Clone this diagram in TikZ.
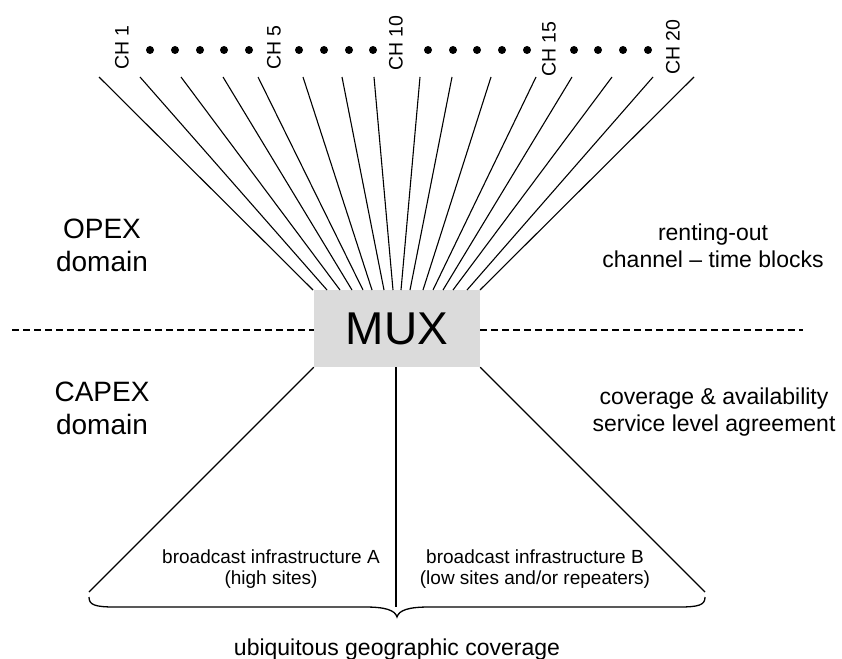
\documentclass[tikz,border=0pt]{standalone}
\usepackage{fontspec}
\setmainfont{Liberation Sans}
\begin{document}
\begin{tikzpicture}[x=1pt,y=-1pt,
  chline/.style={line width=1.1pt},
  divline/.style={line width=2pt, dash pattern=on 7pt off 4pt},
  chlabel/.style={rotate=90, anchor=west, inner sep=0pt, font=\fontsize{19.5}{22}\selectfont},
  chdot/.style={circle, fill=black, inner sep=0pt, minimum size=8pt},
  bigtext/.style={align=center, inner sep=0pt, font=\fontsize{28}{33}\selectfont},
  midtext/.style={align=center, inner sep=0pt, font=\fontsize{23}{27}\selectfont},
  smalltext/.style={align=center, inner sep=0pt, font=\fontsize{19}{21}\selectfont},
  muxbox/.style={fill=black!14, draw=none, minimum width=166pt, minimum height=77pt, inner sep=0pt, font=\fontsize{46}{50}\selectfont}]
\useasboundingbox (0,0) rectangle (842,658);

% MUX
\node[muxbox] (mux) at (397,328.5) {MUX};

% dashed divider
\coordinate (dl) at (12,330);
\coordinate (dr) at (803,330);
\draw[divline] (dl) -- (mux.west |- dl);
\draw[divline] (mux.east |- dr) -- (dr);

% channel labels
\node[chlabel] (ch1)  at (122,70) {CH 1};
\node[chlabel] (ch5)  at (274,70) {CH 5};
\node[chlabel] (ch10) at (396,71) {CH 10};
\node[chlabel] (ch15) at (549,77) {CH 15};
\node[chlabel] (ch20) at (673,75) {CH 20};

% dots
\foreach \x [count=\i] in {150,175,200,224,249,299,324,349,373,428,453,477,502,527,574,598,623,648}
  \node[chdot] (dot\i) at (\x,50) {};

% channel lines
\foreach \t/\b [count=\i] in {99/313,140/327,181/340,223/352,258/363,303/372,342/384,374/393,420/401,452/410,491/423,536/433,572/443,612/453,653/467,694/480}{
  \coordinate (top\i) at (\t,77);
  \coordinate (bot\i) at (\b,290);
  \draw[chline] (top\i) -- (bot\i);
}

% lower fan
\coordinate (lowL) at (89,592);
\coordinate (lowR) at (705,592);
\coordinate (midB) at (396,607);
\draw[chline] (mux.south west) -- (lowL);
\draw[chline] (mux.south east) -- (lowR);
\draw[chline] (mux.south -| midB) -- (midB);

% brace
\coordinate (brL) at (89,597);
\coordinate (brR) at (705,597);
\coordinate (brT) at (397,617);
\draw[line width=1.3pt] (brL) .. controls (89,605) and (95,607) .. (115,607) -- (365,607)
   .. controls (385,607) and (395,610) .. (brT)
   .. controls (399,610) and (409,607) .. (429,607) -- (679,607)
   .. controls (699,607) and (705,605) .. (brR);

% texts
\node[bigtext] (opex) at (102,245.5) {OPEX\\domain};
\node[bigtext] (capex) at (102,408.5) {CAPEX\\domain};
\node[midtext] (rent) at (713,246) {renting-out\\channel -- time blocks};
\node[midtext] (sla) at (714,412.5) {coverage \& availability\\service level agreement};
\node[smalltext] (infA) at (271,569.5) {broadcast infrastructure A\\(high sites)};
\node[smalltext] (infB) at (535,569.5) {broadcast infrastructure B\\(low sites and/or repeaters)};
\node[midtext, anchor=base] (ubiq) at (397,655) {ubiquitous geographic coverage};
\end{tikzpicture}
\end{document}
